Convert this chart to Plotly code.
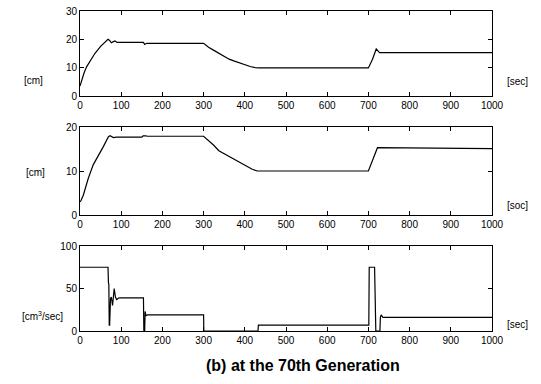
import plotly.graph_objects as go

# Level in tank 1 [cm] over time [sec]
t_level1 = [0, 5, 10, 16, 25, 36, 50, 60, 68, 72, 76, 81, 85, 90, 100, 154, 157, 162,
            300, 312, 325, 338, 350, 362, 375, 388, 400, 413, 425, 435,
            700, 710, 719, 727, 1000]
level1 = [3.5, 6.0, 8.2, 10.3, 12.6, 15.0, 17.5, 18.9, 20.0, 19.6, 18.8, 19.2, 19.4, 18.9, 18.9, 18.9, 18.2, 18.6,
          18.6, 17.2, 16.1, 15.0, 14.0, 13.0, 12.3, 11.6, 11.0, 10.4, 10.0, 9.9,
          9.9, 13.0, 16.6, 15.3, 15.3]

# Level in tank 2 [cm]
t_level2 = [0, 2, 8, 20, 32, 44, 57, 69, 73, 81, 88, 150, 153, 160, 163,
            300, 312, 324, 337, 350, 364, 378, 392, 405, 418, 430,
            700, 722, 1000]
level2 = [3.0, 3.2, 4.5, 8.3, 11.4, 13.3, 15.6, 17.8, 18.0, 17.6, 17.7, 17.7, 18.0, 18.0, 17.9,
          17.9, 17.0, 15.9, 14.6, 13.9, 13.3, 12.4, 11.7, 11.0, 10.4, 10.0,
          10.0, 15.3, 15.1]

# Inflow rate [cm^3/sec]
t_flow = [0, 68, 69, 70, 71, 72, 74, 76, 79, 83, 86, 89, 95, 154, 155, 157, 158, 160, 164,
          300, 300.5, 432, 433, 701, 702, 715, 718, 728, 729, 731, 735, 1000]
flow = [75, 75, 57, 55, 7, 7, 38, 40, 30, 50, 40, 37, 39, 39, 0, 0, 23, 18, 19,
        19, 0, 0, 7, 7, 75, 75, 0, 0, 16, 19, 16, 16]

x_ticks = list(range(0, 1001, 100))
y_ticks = [[0, 10, 20, 30], [0, 10, 20], [0, 50, 100]]
y_ranges = [[0, 30], [0, 20], [0, 100]]
unit_labels = ["[cm]", "[cm]", "[cm<sup>3</sup>/sec]"]
time_labels = ["[sec]", "[soc]", "[sec]"]

W, H = 541, 384
def px(x):
    return x / W
def py(y):
    return 1 - y / H

x_dom = [px(80), px(492)]
y_doms = [[py(96), py(11)], [py(215), py(127)], [py(331), py(246)]]

fig = go.Figure()
series = [(t_level1, level1), (t_level2, level2), (t_flow, flow)]
font = dict(family="Liberation Sans, Arial, sans-serif", size=10, color="black")

for i, (tx, vy) in enumerate(series):
    suffix = "" if i == 0 else str(i + 1)
    fig.add_trace(go.Scatter(x=tx, y=vy, mode="lines",
                             line=dict(color="black", width=1.2),
                             xaxis="x" + suffix, yaxis="y" + suffix,
                             showlegend=False))
    axis_common = dict(showline=True, linecolor="black", linewidth=1,
                       mirror="ticks", ticks="inside", ticklen=4,
                       tickcolor="black", showgrid=False, zeroline=False,
                       tickfont=font, automargin=False)
    fig.layout["xaxis" + suffix] = dict(domain=x_dom, range=[0, 1000],
                                        tickvals=x_ticks, anchor="y" + suffix,
                                        **axis_common)
    fig.layout["yaxis" + suffix] = dict(domain=y_doms[i], range=y_ranges[i],
                                        tickvals=y_ticks[i], anchor="x" + suffix,
                                        **axis_common)

annotations = [
    dict(x=px(33), y=py(80), text=unit_labels[0]),
    dict(x=px(35), y=py(172), text=unit_labels[1]),
    dict(x=px(42), y=py(316), text=unit_labels[2]),
    dict(x=px(517), y=py(82), text=time_labels[0]),
    dict(x=px(517), y=py(205), text=time_labels[1]),
    dict(x=px(517), y=py(324), text=time_labels[2]),
]
for a in annotations:
    fig.add_annotation(xref="paper", yref="paper", showarrow=False,
                       xanchor="center", yanchor="middle", font=font, **a)

fig.add_annotation(xref="paper", yref="paper", x=px(303), y=py(365),
                   text="<b>(b) at the 70th Generation</b>", showarrow=False,
                   xanchor="center", yanchor="middle",
                   font=dict(family="Liberation Sans, Arial, sans-serif", size=16, color="black"))

fig.update_layout(width=W, height=H, margin=dict(l=0, r=0, t=0, b=0, autoexpand=False),
                  paper_bgcolor="white", plot_bgcolor="white")

fig.write_html("out.html")
